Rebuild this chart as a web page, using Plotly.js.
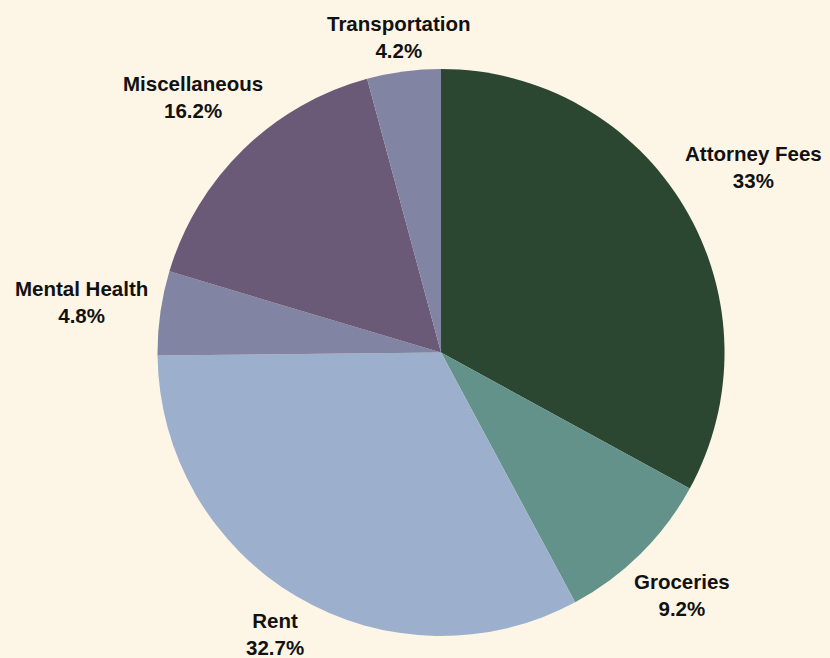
<!DOCTYPE html>
<html>
<head>
<meta charset="utf-8">
<script src="https://cdn.plot.ly/plotly-3.0.1.min.js"></script>
<style>html,body{margin:0;padding:0;background:#fdf5e6;}#chart{width:830px;height:658px;}</style>
</head>
<body>
<div id="chart"></div>
<script>
const categories = ["Attorney Fees", "Groceries", "Rent", "Mental Health", "Miscellaneous", "Transportation"];
const values = [33, 9.2, 32.7, 4.8, 16.2, 4.2];
const percentLabels = ["33%", "9.2%", "32.7%", "4.8%", "16.2%", "4.2%"];
const colors = ["#2b4731", "#63928b", "#9cb0ce", "#8184a2", "#6a5a77", "#8184a2"];

const W = 830, H = 658;
const margin = {l: 0, r: 0, t: 69, b: 22};
const domainX = [0.0627, 1], domainY = [0, 1];
const fontSize = 20.5;
const fontFamily = "Liberation Sans, Arial, sans-serif";
const labelGap = 11;

// pie geometry derived from layout (same formulas Plotly uses)
const plotW = W - margin.l - margin.r, plotH = H - margin.t - margin.b;
const cx = margin.l + plotW * (domainX[0] + domainX[1]) / 2;
const cy = margin.t + plotH * (1 - (domainY[0] + domainY[1]) / 2);
const R = Math.min(plotW * (domainX[1] - domainX[0]), plotH * (domainY[1] - domainY[0])) / 2;

const ctx = document.createElement("canvas").getContext("2d");
ctx.font = "bold " + fontSize + "px 'Liberation Sans', Arial, sans-serif";
const total = values.reduce((a, b) => a + b, 0);
const lineH = fontSize * 1.3;
const inkH = lineH + fontSize * 0.72;

let cum = 0;
const annotations = categories.map((name, i) => {
  const mid = (cum + values[i] / 2) / total;
  cum += values[i];
  const th = mid * 2 * Math.PI;
  const vx = Math.sin(th), vy = -Math.cos(th);
  const a = Math.max(ctx.measureText(name).width, ctx.measureText(percentLabels[i]).width) / 2;
  const b = inkH / 2;
  const dist = t => {
    const dx = Math.max(Math.abs(vx * t) - a, 0), dy = Math.max(Math.abs(vy * t) - b, 0);
    return Math.sqrt(dx * dx + dy * dy);
  };
  let lo = 0, hi = 1000;
  for (let k = 0; k < 60; k++) {
    const m = (lo + hi) / 2;
    if (dist(m) < R + labelGap) lo = m; else hi = m;
  }
  const px = cx + vx * lo, py = cy + vy * lo;
  return {
    x: (px - margin.l) / plotW,
    y: 1 - (py - margin.t) / plotH,
    xref: "paper", yref: "paper",
    xanchor: "center", yanchor: "middle",
    text: "<b>" + name + "</b><br><b>" + percentLabels[i] + "</b>",
    showarrow: false,
    align: "center",
    font: {family: fontFamily, size: fontSize, color: "#111111"}
  };
});

const trace = {
  type: "pie",
  labels: categories,
  values: values,
  textinfo: "none",
  sort: false,
  direction: "clockwise",
  rotation: 0,
  marker: {colors: colors, line: {width: 0}},
  domain: {x: domainX, y: domainY},
  showlegend: false
};

const layout = {
  width: W,
  height: H,
  paper_bgcolor: "#fdf5e6",
  plot_bgcolor: "#fdf5e6",
  margin: margin,
  showlegend: false,
  annotations: annotations
};

Plotly.newPlot("chart", [trace], layout, {displayModeBar: false, staticPlot: true});
</script>
</body>
</html>
